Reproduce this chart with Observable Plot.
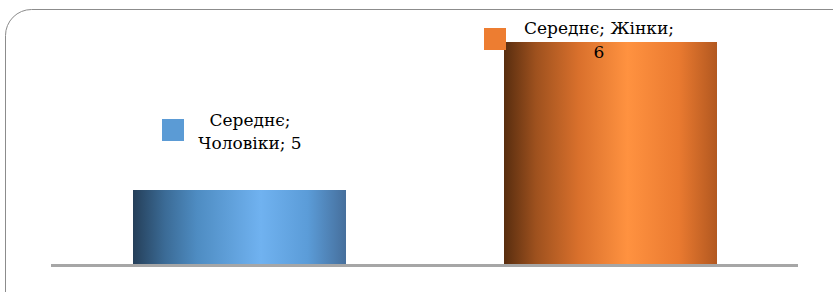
<!DOCTYPE html>
<html><head><meta charset="utf-8">
<script src="https://cdn.jsdelivr.net/npm/d3@7"></script>
<script src="https://cdn.jsdelivr.net/npm/@observablehq/plot@0.6"></script>
<style>body{margin:0;background:#fff} #chart svg text, #chart svg tspan{font-family:"DejaVu Serif",serif !important;}</style>
</head><body><div id="chart"></div>
<script>
const categories = ["Чоловіки", "Жінки"];
const seriesName = "Середнє";
const values = [5, 6];
const labels = ["Середнє;\nЧоловіки; 5", "Середнє; Жінки;\n6"];
const keyColors = ["#5b9bd5", "#ed7d31"];
const gradIds = ["gBlue", "gOrange"];
const baseValue = 4.5;

const data = categories.map((c, i) => ({cat: c, value: values[i], label: labels[i], key: keyColors[i], grad: `url(#${gradIds[i]})`}));

const font = "DejaVu Serif";
const plot = Plot.plot({
  width: 833, height: 292,
  marginLeft: 51, marginRight: 35, marginTop: 42, marginBottom: 28,
  x: {domain: categories, paddingInner: 0.427, paddingOuter: 0.218, axis: null},
  y: {domain: [baseValue, 6], axis: null},
  style: {background: "transparent", fontFamily: font},
  marks: [
    Plot.barY(data, {x: "cat", y1: baseValue, y2: "value", fill: "grad"}),
    Plot.ruleY([baseValue], {stroke: "#a6a6a6", strokeWidth: 3, dy: 1}),
    Plot.text(data.slice(0,1), {x: "cat", y: "value", text: "label", dx: 10, dy: -60, fontSize: 17, fontFamily: font, lineHeight: 1.35, fill: "#000", lineAnchor: "middle"}),
    Plot.text(data.slice(1,2), {x: "cat", y: "value", text: "label", dx: -12, dy: -4, fontSize: 17, fontFamily: font, lineHeight: 1.4, fill: "#000", lineAnchor: "middle"}),
    Plot.dot(data.slice(0,1), {x: "cat", y: "value", symbol: "square", r: 12.4, fill: "key", dx: -67, dy: -60.5}),
    Plot.dot(data.slice(1,2), {x: "cat", y: "value", symbol: "square", r: 12.4, fill: "key", dx: -116, dy: -3.5})
  ]
});

const svg = d3.select(plot);
const defs = svg.insert("defs", ":first-child");
const grads = {
  gBlue: [[0,"#253f59"],[0.15,"#3b6b96"],[0.3,"#4e8cc2"],[0.6,"#70b2f0"],[0.82,"#5b9cd8"],[1,"#466f9c"]],
  gOrange: [[0,"#582d0f"],[0.15,"#9e511e"],[0.35,"#d9702c"],[0.58,"#ff9240"],[0.82,"#ea7a30"],[1,"#b25820"]]
};
for (const id of gradIds) {
  const g = defs.append("linearGradient").attr("id", id).attr("x1", "0").attr("x2", "1").attr("y1", "0").attr("y2", "0");
  for (const [o, c] of grads[id]) g.append("stop").attr("offset", o).attr("stop-color", c);
}
svg.insert("rect", "defs + *").attr("x", 5.5).attr("y", 9.5).attr("width", 900).attr("height", 400)
  .attr("rx", 26).attr("fill", "none").attr("stroke", "#8c8c8c").attr("stroke-width", 1);
document.getElementById("chart").appendChild(plot);
</script>
</body></html>
